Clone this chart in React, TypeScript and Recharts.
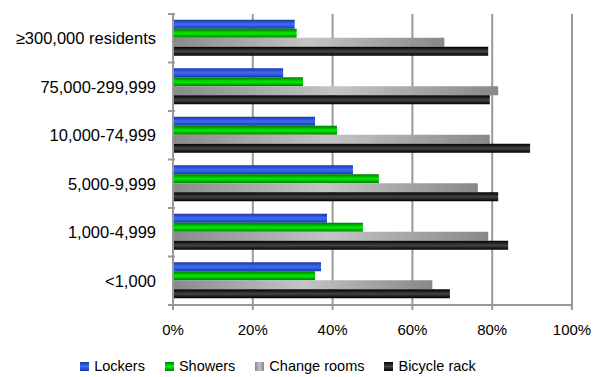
import React from 'react';
import { BarChart, Bar, XAxis, YAxis, CartesianGrid, Legend } from 'recharts';

const categories = ['≥300,000 residents', '75,000-299,999', '10,000-74,999', '5,000-9,999', '1,000-4,999', '<1,000'];
const lockers = [30.5, 27.6, 35.6, 45.1, 38.6, 37.1];
const showers = [31.0, 32.6, 41.1, 51.6, 47.6, 35.6];
const changeRooms = [68.0, 81.5, 79.4, 76.4, 79.0, 65.0];
const bicycleRack = [79.0, 79.4, 89.5, 81.5, 84.0, 69.4];
const xTicks = [0, 20, 40, 60, 80, 100];
const seriesNames = ['Lockers', 'Showers', 'Change rooms', 'Bicycle rack'];

const data = categories.map((c, i) => ({
  name: c,
  lockers: lockers[i],
  showers: showers[i],
  change: changeRooms[i],
  bike: bicycleRack[i],
}));

const W = 597;
const H = 377;
const TOP = 14;
const PLOT_H = 291;
const BAND = PLOT_H / categories.length;
const FONT = '"Liberation Sans", Arial, sans-serif';

const YTick = (props: any) => {
  const { x, y, payload, index } = props;
  return (
    <g>
      <line x1={x + 3} x2={x + 10} y1={y - BAND / 2} y2={y - BAND / 2} stroke="#999" strokeWidth={2} />
      {index === categories.length - 1 && (
        <line x1={x + 3} x2={x + 10} y1={y + BAND / 2} y2={y + BAND / 2} stroke="#999" strokeWidth={2} />
      )}
      <text x={x - 9} y={y} dy={6} textAnchor="end" fontSize={16.5} fontFamily={FONT} fill="#000">
        {payload.value}
      </text>
    </g>
  );
};

const LegendContent = () => (
  <div style={{ display: 'flex', justifyContent: 'center', fontFamily: FONT, fontSize: 14.5, lineHeight: '17px', color: '#000', paddingTop: 11, paddingRight: 16 }}>
    {seriesNames.map((n, i) => (
      <div key={n} style={{ display: 'flex', alignItems: 'center', marginRight: i < 3 ? 20 : 0 }}>
        <svg width={9} height={9} style={{ marginRight: 5 }}>
          <defs>
            <linearGradient id={`lg${i}`} x1="0" y1="0" x2={i === 2 ? '1' : '0'} y2={i === 2 ? '0' : '1'}>
              {i === 0 && (<><stop offset="0" stopColor="#1c3a9c" /><stop offset="0.5" stopColor="#3b6bff" /><stop offset="1" stopColor="#1c3a9c" /></>)}
              {i === 1 && (<><stop offset="0" stopColor="#007a00" /><stop offset="0.5" stopColor="#00ee00" /><stop offset="1" stopColor="#007a00" /></>)}
              {i === 2 && (<><stop offset="0" stopColor="#888" /><stop offset="0.5" stopColor="#c4c4c4" /><stop offset="1" stopColor="#888" /></>)}
              {i === 3 && (<><stop offset="0" stopColor="#000" /><stop offset="0.5" stopColor="#444" /><stop offset="1" stopColor="#000" /></>)}
            </linearGradient>
          </defs>
          <rect x={0} y={0} width={9} height={9} fill={`url(#lg${i})`} />
        </svg>
        <span>{n}</span>
      </div>
    ))}
  </div>
);

export default function App() {
  return (
    <div style={{ position: 'absolute', left: 0, top: 0, width: W, height: H, background: '#fff', overflow: 'hidden' }}>
      <BarChart
        width={W}
        height={H}
        data={data}
        layout="vertical"
        margin={{ top: TOP, right: 25, bottom: 0, left: 0 }}
        barCategoryGap="12%"
        barGap={0}
      >
        <defs>
          <linearGradient id="gBlue" x1="0" y1="0" x2="0" y2="1">
            <stop offset="0" stopColor="#1c3a9c" />
            <stop offset="0.5" stopColor="#3b6bff" />
            <stop offset="1" stopColor="#1c3a9c" />
          </linearGradient>
          <linearGradient id="gGreen" x1="0" y1="0" x2="0" y2="1">
            <stop offset="0" stopColor="#007a00" />
            <stop offset="0.5" stopColor="#00ee00" />
            <stop offset="1" stopColor="#007a00" />
          </linearGradient>
          <linearGradient id="gGrey" x1="0" y1="0" x2="1" y2="0">
            <stop offset="0" stopColor="#8a8a8a" />
            <stop offset="0.5" stopColor="#c4c4c4" />
            <stop offset="1" stopColor="#888888" />
          </linearGradient>
          <linearGradient id="gBlack" x1="0" y1="0" x2="0" y2="1">
            <stop offset="0" stopColor="#000" />
            <stop offset="0.5" stopColor="#444" />
            <stop offset="1" stopColor="#000" />
          </linearGradient>
        </defs>
        <CartesianGrid horizontal={false} vertical={true} stroke="#999" strokeWidth={2} />
        <XAxis
          type="number"
          domain={[0, 100]}
          ticks={xTicks}
          tickFormatter={(v: number) => `${v}%`}
          axisLine={{ stroke: '#999', strokeWidth: 2 }}
          tickLine={{ stroke: '#999', strokeWidth: 2 }}
          tickSize={5}
          tickMargin={14}
          height={42}
          tick={{ fontSize: 15, fontFamily: FONT, fill: '#000' }}
          interval={0}
        />
        <YAxis
          type="category"
          dataKey="name"
          width={173}
          axisLine={{ stroke: '#999', strokeWidth: 2 }}
          tickLine={false}
          tick={<YTick />}
          interval={0}
        />
        <Legend verticalAlign="bottom" height={30} content={<LegendContent />} />
        <Bar dataKey="lockers" name="Lockers" fill="url(#gBlue)" isAnimationActive={false} />
        <Bar dataKey="showers" name="Showers" fill="url(#gGreen)" isAnimationActive={false} />
        <Bar dataKey="change" name="Change rooms" fill="url(#gGrey)" isAnimationActive={false} />
        <Bar dataKey="bike" name="Bicycle rack" fill="url(#gBlack)" isAnimationActive={false} />
      </BarChart>
    </div>
  );
}
